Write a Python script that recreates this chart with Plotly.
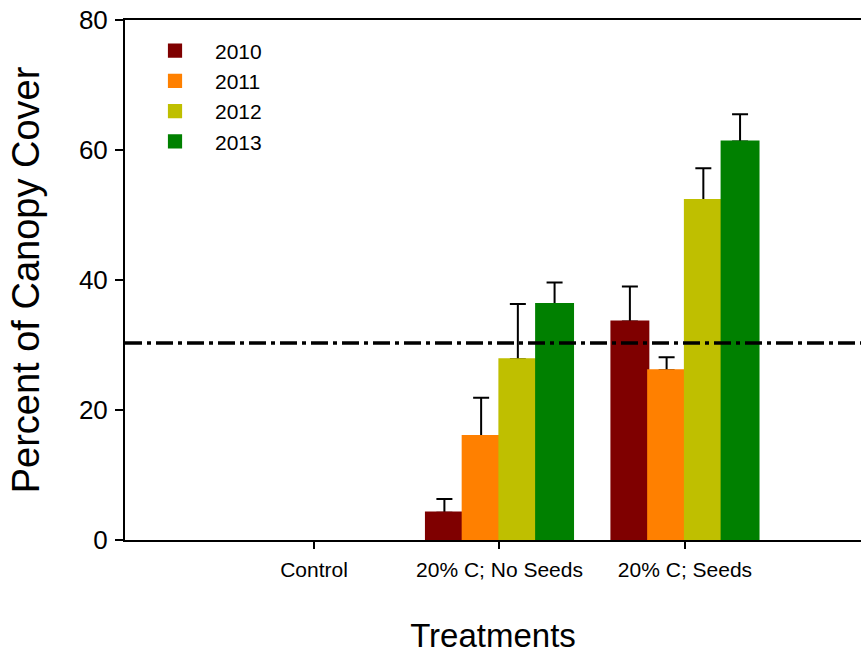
import plotly.graph_objects as go

treatments = ["Control", "20% C; No Seeds", "20% C; Seeds"]
years = ["2010", "2011", "2012", "2013"]
colors = ["#7F0000", "#FF8000", "#BFBF00", "#008000"]
values = {
    "2010": [None, 4.2, 33.6],
    "2011": [None, 16.0, 26.1],
    "2012": [None, 27.8, 52.3],
    "2013": [None, 36.3, 61.3],
}
errors = {
    "2010": [None, 2.1, 5.4],
    "2011": [None, 5.9, 2.0],
    "2012": [None, 8.5, 4.9],
    "2013": [None, 3.3, 4.2],
}
reference_level = 30.3

fig = go.Figure()
# error bars (drawn underneath, on the base axes)
for yr in years:
    fig.add_trace(go.Bar(
        x=treatments, y=values[yr], name=yr, showlegend=False, hoverinfo="skip",
        marker=dict(color="rgba(0,0,0,0)", line=dict(width=0)),
        error_y=dict(type="data", array=errors[yr], arrayminus=[0, 0, 0],
                     symmetric=False, color="black", thickness=2, width=8),
        xaxis="x", yaxis="y",
    ))
# visible bars (on overlaying axes, drawn on top)
for yr, col in zip(years, colors):
    fig.add_trace(go.Bar(
        x=treatments, y=values[yr], name=yr,
        marker=dict(color=col, line=dict(color=col, width=2.2)),
        xaxis="x2", yaxis="y2",
    ))

fig.add_shape(type="line", xref="paper", x0=0, x1=1, yref="y",
              y0=reference_level, y1=reference_level, layer="above",
              line=dict(color="black", width=3.5, dash="17px,5px,4px,5px"))

font = "Liberation Sans, Arial, sans-serif"
xr = [-1.019, 2.949]
fig.update_layout(
    width=861, height=654, autosize=False,
    margin=dict(l=125, r=0, t=20, b=114),
    paper_bgcolor="white", plot_bgcolor="white",
    barmode="group", bargap=0.208, bargroupgap=0,
    font=dict(family=font, color="black"),
    showlegend=True,
    legend=dict(x=0.0136, y=0.98, xanchor="left", yanchor="top",
                font=dict(size=21, family=font), bgcolor="rgba(0,0,0,0)",
                tracegroupgap=0, itemwidth=70),
    xaxis=dict(range=xr, showline=True, linecolor="black", linewidth=2,
               mirror=True, ticks="outside", ticklen=7, tickwidth=2, tickcolor="black",
               tickfont=dict(size=21), ticklabelstandoff=3, showgrid=False, zeroline=False,
               title=dict(text="Treatments", font=dict(size=33), standoff=46)),
    yaxis=dict(range=[0, 80], tickvals=[0, 20, 40, 60, 80], showline=True,
               linecolor="black", linewidth=2, ticks="outside", ticklen=8, tickwidth=2,
               tickcolor="black", tickfont=dict(size=26), ticklabelstandoff=2,
               showgrid=False, zeroline=False,
               title=dict(text="Percent of Canopy Cover", font=dict(size=38), standoff=28)),
    xaxis2=dict(range=xr, overlaying="x", visible=False, showgrid=False, zeroline=False),
    yaxis2=dict(range=[0, 80], overlaying="y", visible=False, showgrid=False, zeroline=False),
)

fig.write_html(
    "out.html",
    config={"responsive": False, "displayModeBar": False},
    post_script="document.body.style.margin='0';document.body.style.overflow='hidden';",
)
